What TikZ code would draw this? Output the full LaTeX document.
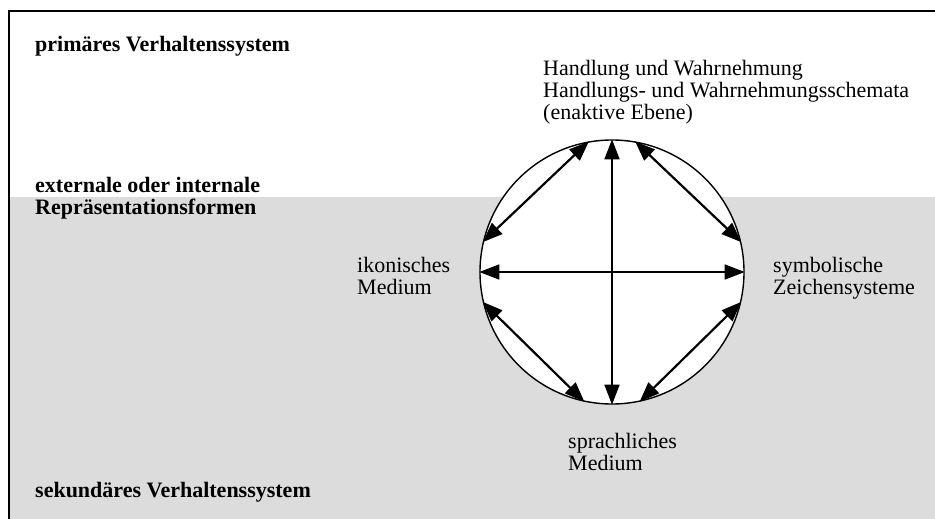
\documentclass[tikz,border=0pt]{standalone}
\usepackage{fontspec}
\setmainfont{Liberation Serif}
\usetikzlibrary{arrows.meta}
\definecolor{lowband}{RGB}{220,220,220}

\begin{document}
\begin{tikzpicture}[
    x=1pt, y=-1pt,
    txt/.style={align=left, anchor=base west, inner sep=0pt, font=\fontsize{22}{22}\selectfont},
    level/.style={txt, font=\fontsize{22}{22}\selectfont\bfseries},
    medium/.style={circle, draw, fill=white, minimum size=264pt, inner sep=0pt, line width=1.4pt},
    link/.style={>={Triangle[length=20pt, width=15pt]}, <->, line width=1.6pt}
  ]
    \useasboundingbox (0,0) rectangle (935,519);
    \fill[lowband] (10,197) rectangle (935,519);
    \draw[line width=2pt] (9,519) -- (9,11) -- (935,11);

    % base anchor = last line
    \node[level] (prim) at (35,52) {primäres Verhaltenssystem};
    \node[level] (repr) at (35,214) {externale oder internale\\Repräsentationsformen};
    \node[level] (sek) at (35,497) {sekundäres Verhaltenssystem};

    \node[medium] (kreis) at (612,272) {};
    \node[txt] (enakt) at (543,120) {Handlung und Wahrnehmung\\Handlungs- und Wahrnehmungsschemata\\(enaktive Ebene)};
    \node[txt] (ikon) at (357,294) {ikonisches\\Medium};
    \node[txt] (symb) at (773,294) {symbolische\\Zeichensysteme};
    \node[txt] (sprach) at (568,470) {sprachliches\\Medium};

    \draw[link] (kreis.north) -- (kreis.south);
    \draw[link] (kreis.west) -- (kreis.east);
    \draw[link, line width=2.2pt] (kreis.100) -- (kreis.167);
    \draw[link, line width=2.2pt] (kreis.80) -- (kreis.13);
    \draw[link, line width=2.2pt] (kreis.193) -- (kreis.258);
    \draw[link, line width=2.2pt] (kreis.347) -- (kreis.282);
  \end{tikzpicture}
\end{document}
